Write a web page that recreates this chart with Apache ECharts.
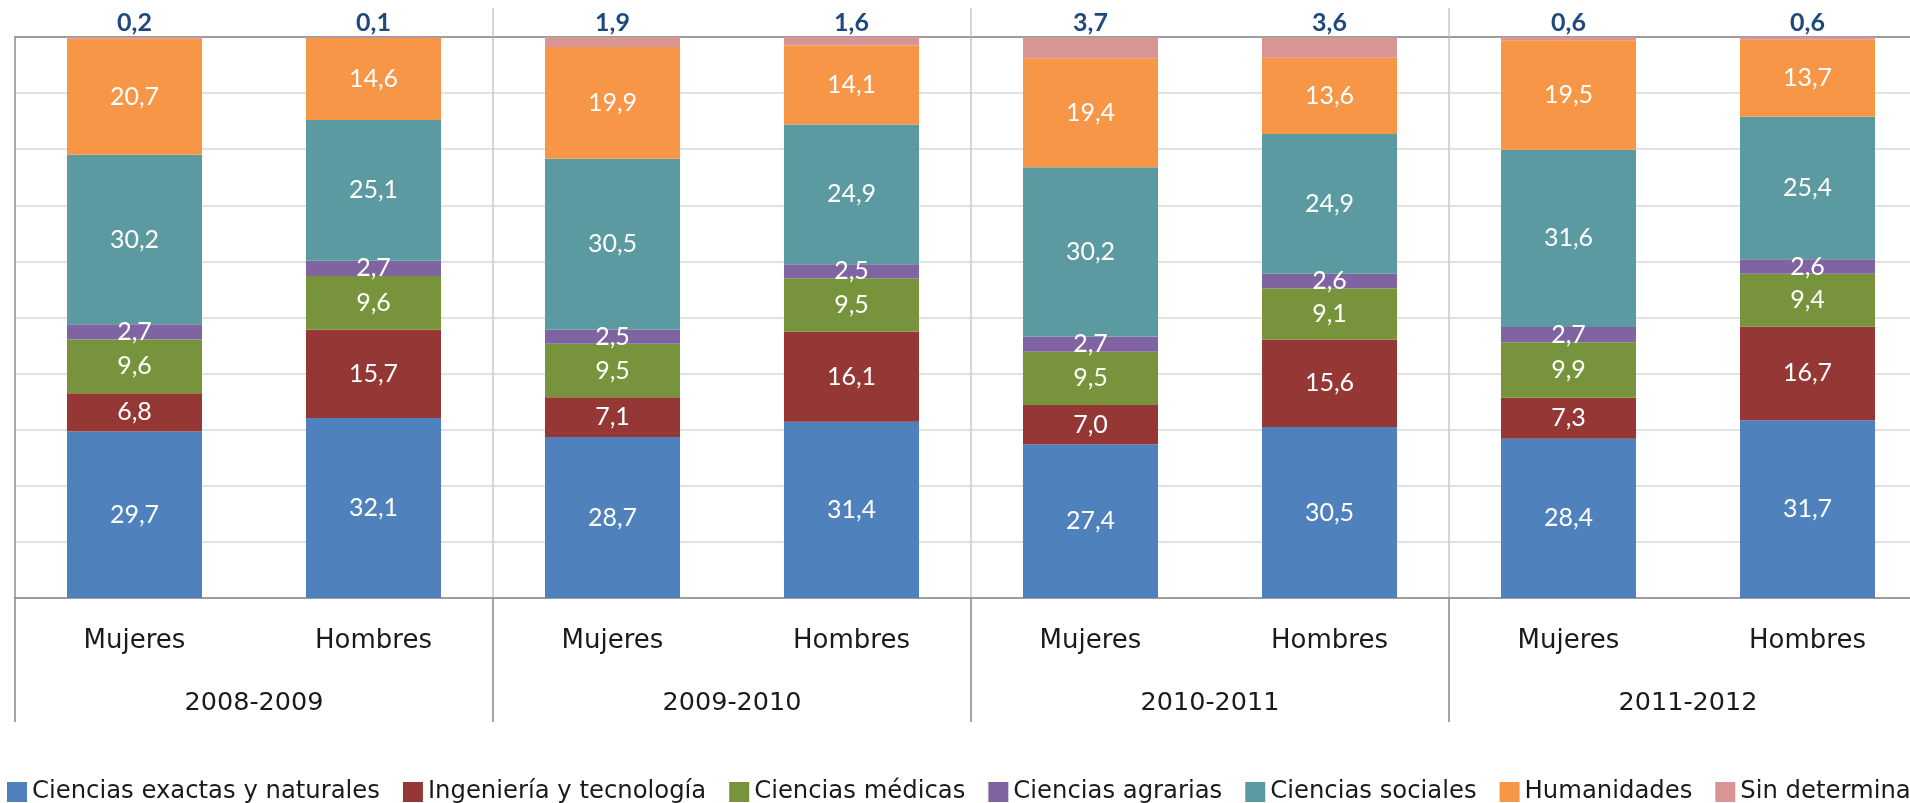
<!DOCTYPE html>
<html>
<head>
<meta charset="utf-8">
<script src="https://cdn.jsdelivr.net/npm/echarts@6/dist/echarts.min.js"></script>
<style>
html,body{margin:0;padding:0;background:#fff;}
#chart{width:1910px;height:803px;}
</style>
</head>
<body>
<div id="chart"></div>
<script>
const sexes = ['Mujeres','Hombres','Mujeres','Hombres','Mujeres','Hombres','Mujeres','Hombres'];
const years = ['2008-2009','2009-2010','2010-2011','2011-2012'];
const seriesNames = ['Ciencias exactas y naturales','Ingeniería y tecnología','Ciencias médicas','Ciencias agrarias','Ciencias sociales','Humanidades','Sin determinar'];
const exactas     = [29.7, 32.1, 28.7, 31.4, 27.4, 30.5, 28.4, 31.7];
const ingenieria  = [6.8, 15.7, 7.1, 16.1, 7.0, 15.6, 7.3, 16.7];
const medicas     = [9.6, 9.6, 9.5, 9.5, 9.5, 9.1, 9.9, 9.4];
const agrarias    = [2.7, 2.7, 2.5, 2.5, 2.7, 2.6, 2.7, 2.6];
const sociales    = [30.2, 25.1, 30.5, 24.9, 30.2, 24.9, 31.6, 25.4];
const humanidades = [20.7, 14.6, 19.9, 14.1, 19.4, 13.6, 19.5, 13.7];
const sinDet      = [0.2, 0.1, 1.9, 1.6, 3.7, 3.6, 0.6, 0.6];

const values = [exactas, ingenieria, medicas, agrarias, sociales, humanidades, sinDet];
const colors = ['#4F81BD','#953735','#77933C','#8064A2','#5B9AA0','#F79646','#D99594'];
const FONT = 'Lato';
const AXFONT = 'DejaVu Sans';
const fmt = p => p.value.toFixed(1).replace('.', ',');

const series = seriesNames.map((name, i) => {
  const last = i === seriesNames.length - 1;
  return {
    name: name,
    type: 'bar',
    stack: 'total',
    xAxisIndex: 0,
    barWidth: '56.5%',
    data: values[i],
    itemStyle: { color: colors[i] },
    label: last ? {
      show: true, position: 'top', distance: 2, formatter: fmt,
      color: '#1F497D', fontWeight: 'bold', fontSize: 25, fontFamily: FONT
    } : {
      show: true, position: 'inside', formatter: fmt,
      color: '#ffffff', fontSize: 25, fontFamily: FONT
    }
  };
});

const chart = echarts.init(document.getElementById('chart'), null, {renderer: 'canvas'});
chart.setOption({
  animation: false,
  backgroundColor: '#ffffff',
  textStyle: { fontFamily: FONT },
  grid: { left: 15, width: 1912, top: 37, bottom: 205, containLabel: false, outerBoundsMode: 'none' },
  legend: {
    left: 2, top: 775, width: 4000,
    icon: 'rect', itemWidth: 20, itemHeight: 20, itemGap: 23,
    textStyle: { fontSize: 24.3, color: '#1a1a1a', fontFamily: AXFONT },
    data: seriesNames
  },
  xAxis: [
    {
      type: 'category', data: sexes, position: 'bottom',
      axisLine: { show: true, lineStyle: { color: '#868686', width: 1.5 } },
      axisTick: { show: false },
      axisLabel: { margin: 30, fontSize: 26, color: '#1a1a1a', fontFamily: AXFONT },
      splitLine: { show: false }
    },
    {
      type: 'category', data: years, position: 'bottom',
      axisLine: { show: false },
      axisTick: { show: true, length: 124, interval: 0, lineStyle: { color: '#868686', width: 1.5 } },
      axisLabel: { margin: 92, fontSize: 25.5, color: '#1a1a1a', fontFamily: AXFONT },
      splitLine: { show: true, interval: 0, lineStyle: { color: '#C8C8C8', width: 1.5 } }
    },
    {
      type: 'category', data: years, position: 'top',
      axisLine: { show: true, lineStyle: { color: '#868686', width: 1.5 } },
      axisTick: { show: true, length: 29, interval: function (idx) { return idx !== 0; }, lineStyle: { color: '#C8C8C8', width: 1.5 } },
      axisLabel: { show: false },
      splitLine: { show: false }
    }
  ],
  yAxis: {
    type: 'value', min: 0, max: 100, interval: 10,
    axisLine: { show: true, lineStyle: { color: '#9a9a9a', width: 1.5 } },
    axisTick: { show: false },
    axisLabel: { show: false },
    splitLine: { show: true, lineStyle: { color: '#D9D9D9', width: 1.5 } }
  },
  series: series
});
</script>
</body>
</html>
